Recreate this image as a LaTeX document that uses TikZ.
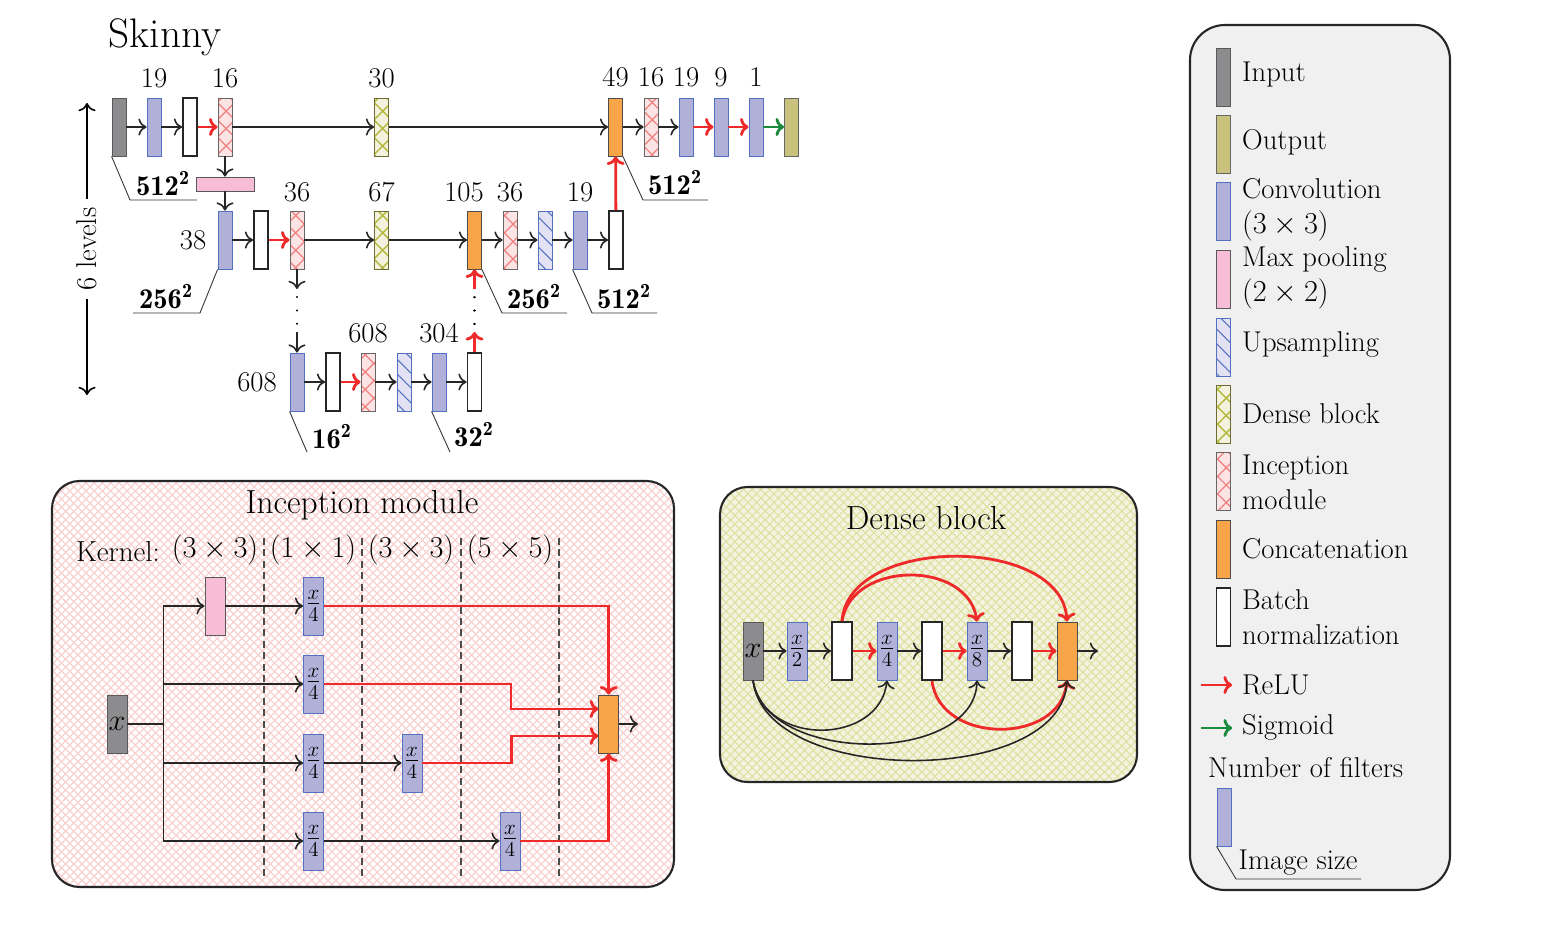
\documentclass[tikz,border=0pt]{standalone}
\usepackage{fontspec}
\usepackage{amsmath}
\usetikzlibrary{arrows.meta, calc, patterns.meta}
\definecolor{inputgray}{HTML}{8C8C8E}
\definecolor{outputolive}{HTML}{C8C27C}
\definecolor{convblue}{HTML}{B0B0D8}
\definecolor{convedge}{HTML}{5470C0}
\definecolor{poolpink}{HTML}{F7BCD6}
\definecolor{upfill}{HTML}{E2E2F4}
\definecolor{densefill}{HTML}{F4F2DE}
\definecolor{denseline}{HTML}{B4B83C}
\definecolor{denseedge}{HTML}{6E6E30}
\definecolor{incfill}{HTML}{FDE4E4}
\definecolor{incline}{HTML}{F08080}
\definecolor{concatorange}{HTML}{F8A54A}
\definecolor{relured}{HTML}{EE2A2A}
\definecolor{sigmoidgreen}{HTML}{1A8A3C}
\definecolor{legendgray}{HTML}{F0F0F0}
\definecolor{bgpinkline}{HTML}{FAD0D0}
\definecolor{bgdensefill}{HTML}{F4F3E2}
\definecolor{bgdenseline}{HTML}{DDE19C}

\begin{document}
\begin{tikzpicture}[x=0.02cm, y=-0.02cm, >={To[scale=1.3]}]
% Define styles
\tikzstyle{every node} = [font=\fontsize{16.3}{20}\selectfont]
\tikzstyle{layer} = [rectangle, minimum width=0.28cm, minimum height=1.16cm, inner sep=0pt, line width=0.5pt]
\tikzstyle{wide} = [minimum width=0.4cm]
\tikzstyle{inputbox} = [layer, fill=inputgray, draw=black!65]
\tikzstyle{outputbox} = [layer, fill=outputolive, draw=black!60]
\tikzstyle{conv} = [layer, fill=convblue, draw=convedge]
\tikzstyle{pool} = [layer, fill=poolpink, draw=black!65]
\tikzstyle{upsample} = [layer, draw=convedge, preaction={fill=upfill}, preaction={pattern={Lines[angle=-45, distance=6pt, line width=0.6pt]}, pattern color=convedge}]
\tikzstyle{dense} = [layer, draw=denseedge, preaction={fill=densefill}, preaction={pattern={Lines[angle=45, distance=7pt, line width=0.8pt]}, pattern color=denseline}, preaction={pattern={Lines[angle=-45, distance=7pt, line width=0.8pt]}, pattern color=denseline}]
\tikzstyle{incep} = [layer, draw=black!60, preaction={fill=incfill}, preaction={pattern={Lines[angle=45, distance=7pt, line width=0.7pt]}, pattern color=incline}, preaction={pattern={Lines[angle=-45, distance=7pt, line width=0.7pt]}, pattern color=incline}]
\tikzstyle{concat} = [layer, fill=concatorange, draw=black!70]
\tikzstyle{batchnorm} = [layer, fill=white, draw=black!85, line width=1.1pt]
\tikzstyle{arr} = [->, line width=0.9pt, draw=black!85]
\tikzstyle{relu} = [-{To[scale=0.95]}, line width=1.6pt, draw=relured]
\tikzstyle{sigm} = [-{To[scale=0.95]}, line width=1.6pt, draw=sigmoidgreen]
\tikzstyle{sizeline} = [line width=0.5pt, draw=black!80]
\tikzstyle{sizelabel} = [font=\fontsize{16.3}{20}\selectfont]
\tikzstyle{frac} = [font=\fontsize{17.5}{21}\selectfont]
\tikzstyle{kern} = [font=\fontsize{17}{20}\selectfont]
\tikzstyle{incbg} = [rounded corners=0.55cm, line width=1.2pt, draw=black!85, preaction={fill=white}, preaction={pattern={Lines[angle=45, distance=3.3pt, line width=0.7pt]}, pattern color=bgpinkline}, preaction={pattern={Lines[angle=-45, distance=3.3pt, line width=0.7pt]}, pattern color=bgpinkline}]
\tikzstyle{densebg} = [rounded corners=0.55cm, line width=1.2pt, draw=black!85, preaction={fill=bgdensefill}, preaction={pattern={Lines[angle=45, distance=3.5pt, line width=0.6pt]}, pattern color=bgdenseline}, preaction={pattern={Lines[angle=-45, distance=3.5pt, line width=0.6pt]}, pattern color=bgdenseline}]
\tikzstyle{legendbg} = [rounded corners=0.7cm, line width=1.2pt, draw=black!85, fill=legendgray]

\useasboundingbox (0,0) rectangle (1544,946);

% Skinny network
\node (title) at (165,37) [font=\fontsize{23.5}{27}\selectfont] {Skinny};

% Level 1
\node (in1) [inputbox] at (119,127) {};
\node (c1) [conv] at (154,127) {};
\node (bn1) [batchnorm] at (190,127) {};
\node (inc1) [incep] at (225,127) {};
\node (db1) [dense] at (381.5,127) {};
\node (cat1) [concat] at (615.5,127) {};
\node (inc2) [incep] at (651,127) {};
\node (c2) [conv] at (686,127) {};
\node (c3) [conv] at (721,127) {};
\node (c4) [conv] at (756,127) {};
\node (out1) [outputbox] at (791.5,127) {};
\node (pool1) [pool, minimum width=1.16cm, minimum height=0.28cm] at (225,184) {};

\node (t-c1) at (154,78) {19};
\node (t-inc1) at (225,78) {16};
\node (t-db1) at (381.5,78) {30};
\node (t-cat1) at (615.5,77) {49};
\node (t-inc2) at (651,77) {16};
\node (t-c2) at (686,77) {19};
\node (t-c3) at (721,77) {9};
\node (t-c4) at (756,77) {1};

% Level 2
\node (c5) [conv] at (225,240) {};
\node (bn2) [batchnorm] at (261,240) {};
\node (inc3) [incep] at (297,240) {};
\node (db2) [dense] at (381.5,240) {};
\node (cat2) [concat] at (474.5,240) {};
\node (inc4) [incep] at (510,240) {};
\node (up1) [upsample] at (545,240) {};
\node (c6) [conv] at (580,240) {};
\node (bn3) [batchnorm] at (616,240) {};

\node (t-c5) at (193,240) {38};
\node (t-inc3) at (297,192) {36};
\node (t-db2) at (381.5,192) {67};
\node (t-cat2) at (464,192) {105};
\node (t-inc4) at (510,192) {36};
\node (t-c6) at (580,192) {19};

% Level 3
\node (c7) [conv] at (297,382) {};
\node (bn4) [batchnorm] at (333,382) {};
\node (inc5) [incep] at (368,382) {};
\node (up2) [upsample] at (404,382) {};
\node (c8) [conv] at (439,382) {};
\node (bn5) [batchnorm] at (474.5,382) {};

\node (t-c7) at (257,382) {608};
\node (t-inc5) at (368,333) {608};
\node (t-c8) at (439,333) {304};

% Arrows
\draw[arr] (in1) -- (c1);
\draw[arr] (c1) -- (bn1);
\draw[relu] (bn1) -- (inc1);
\draw[arr] (inc1) -- (db1);
\draw[arr] (db1) -- (cat1);
\draw[arr] (cat1) -- (inc2);
\draw[arr] (inc2) -- (c2);
\draw[relu] (c2) -- (c3);
\draw[relu] (c3) -- (c4);
\draw[sigm] (c4) -- (out1);
\draw[arr] (inc1) -- (pool1);
\draw[arr] (pool1) -- (c5);

\draw[arr] (c5) -- (bn2);
\draw[relu] (bn2) -- (inc3);
\draw[arr] (inc3) -- (db2);
\draw[arr] (db2) -- (cat2);
\draw[arr] (cat2) -- (inc4);
\draw[arr] (inc4) -- (up1);
\draw[arr] (up1) -- (c6);
\draw[arr] (c6) -- (bn3);
\draw[relu] (bn3) -- (cat1);

\draw[arr] (c7) -- (bn4);
\draw[relu] (bn4) -- (inc5);
\draw[arr] (inc5) -- (up2);
\draw[arr] (up2) -- (c8);
\draw[arr] (c8) -- (bn5);

% Skipped levels
\coordinate (dn1) at (297,289);
\coordinate (dn2) at (297,332);
\coordinate (up-a) at (474.5,332);
\coordinate (up-b) at (474.5,289);
\draw[arr] (inc3) -- (dn1);
\draw[line width=1.2pt, dash pattern=on 0.1pt off 7.5pt, line cap=round] (dn1) ++(0,8) -- (dn2);
\draw[arr] (dn2) -- (c7);
\draw[relu] (bn5) -- (up-a);
\draw[line width=1.2pt, dash pattern=on 0.1pt off 7.5pt, line cap=round] (up-a) ++(0,-8) -- (up-b);
\draw[relu] (up-b) -- (cat2);

% Image sizes
\draw[sizeline] (in1.south west) -- (130,200) -- (197,200);
\node (s-in1) [sizelabel] at (163,184) {$\mathbf{512^2}$};
\draw[sizeline] (cat1.south east) -- (643,200) -- (708,200);
\node (s-cat1) [sizelabel] at (675,183) {$\mathbf{512^2}$};
\draw[sizeline] (c5.south west) -- (200,313) -- (133,313);
\node (s-c5) [sizelabel] at (166,297) {$\mathbf{256^2}$};
\draw[sizeline] (cat2.south east) -- (502,313) -- (567,313);
\node (s-cat2) [sizelabel] at (534,297) {$\mathbf{256^2}$};
\draw[sizeline] (c6.south west) -- (592,313) -- (657,313);
\node (s-c6) [sizelabel] at (624,297) {$\mathbf{512^2}$};
\draw[sizeline] (c7.south west) -- (307,452);
\node (s-c7) [sizelabel] at (332,437) {$\mathbf{16^2}$};
\draw[sizeline] (c8.south west) -- (450,452);
\node (s-c8) [sizelabel] at (474,435) {$\mathbf{32^2}$};

% Levels
\coordinate (lv-top) at (87,103);
\coordinate (lv-bot) at (87,395);
\draw[<->, line width=0.9pt] (lv-top) -- (lv-bot) node (levels) [midway, fill=white, rotate=90, inner sep=5pt] {6 levels};

% Inception module
\draw[incbg] (52,481) rectangle (674,887);
\node (inc-title) at (362,505) [font=\fontsize{19}{22}\selectfont] {Inception module};
\node (kernel) at (118,552) [font=\fontsize{16.5}{19}\selectfont] {Kernel:};
\node (k1) at (215,550) [kern] {$(3\times 3)$};
\node (k2) at (313,550) [kern] {$(1\times 1)$};
\node (k3) at (411,550) [kern] {$(3\times 3)$};
\node (k4) at (510,550) [kern] {$(5\times 5)$};
\foreach \xx in {264,362,461,559}
  \draw[black!70, line width=0.6pt, dash pattern=on 4pt off 2.5pt] (\xx,538) -- (\xx,876);

\node (ix) [inputbox, wide] at (117,724) {$x$};
\node (ip) [pool, wide] at (215,606) {};
\node (q1) [conv, wide, frac] at (313.5,606) {$\frac{x}{4}$};
\node (q2) [conv, wide, frac] at (313.5,684) {$\frac{x}{4}$};
\node (q3) [conv, wide, frac] at (313.5,763) {$\frac{x}{4}$};
\node (q4) [conv, wide, frac] at (313.5,841) {$\frac{x}{4}$};
\node (q5) [conv, wide, frac] at (412,763) {$\frac{x}{4}$};
\node (q6) [conv, wide, frac] at (510,841) {$\frac{x}{4}$};
\node (icat) [concat, wide] at (608.7,724) {};
\coordinate (iout) at (638,724);

\draw[arr] (ix.east) -- ++(36,0) |- (ip);
\draw[arr] (ix.east) -- ++(36,0) |- (q2);
\draw[arr] (ix.east) -- ++(36,0) |- (q3);
\draw[arr] (ix.east) -- ++(36,0) |- (q4);
\draw[arr] (ip) -- (q1);
\draw[arr] (q3) -- (q5);
\draw[arr] (q4) -- (q6);
\draw[relu] (q1) -| (icat);
\draw[relu] (q2.east) -- ++(187,0) |- ($(icat.west)+(0,-15)$);
\draw[relu] (q5.east) -- ++(89,0) |- ($(icat.west)+(0,12)$);
\draw[relu] (q6) -| (icat);
\draw[arr] (icat) -- (iout);

% Dense block
\draw[densebg] (720,487) rectangle (1137,782);
\node (dense-title) at (926,518) [font=\fontsize{19}{22}\selectfont] {Dense block};
\node (dx) [inputbox, wide] at (753,651) {$x$};
\node (d2) [conv, wide, frac] at (797,651) {$\frac{x}{2}$};
\node (dbn1) [batchnorm, wide] at (842,651) {};
\node (d4) [conv, wide, frac] at (887,651) {$\frac{x}{4}$};
\node (dbn2) [batchnorm, wide] at (932,651) {};
\node (d8) [conv, wide, frac] at (977,651) {$\frac{x}{8}$};
\node (dbn3) [batchnorm, wide] at (1022,651) {};
\node (dcat) [concat, wide] at (1067,651) {};
\coordinate (dout) at (1098,651);

\draw[arr] (dx) -- (d2);
\draw[arr] (d2) -- (dbn1);
\draw[relu] (dbn1) -- (d4);
\draw[arr] (d4) -- (dbn2);
\draw[relu] (dbn2) -- (d8);
\draw[arr] (d8) -- (dbn3);
\draw[relu] (dbn3) -- (dcat);
\draw[arr] (dcat) -- (dout);
\draw[relu] (dbn1.north) .. controls (852,560) and (968,560) .. (d8.north);
\draw[relu] (dbn1.north) .. controls (848,535) and (1062,535) .. (dcat.north);
\draw[relu] (dbn2.south) .. controls (940,745) and (1060,745) .. (dcat.south);
\draw[arr] (dx.south) .. controls (765,748) and (880,745) .. (d4.south);
\draw[arr] (dx.south) .. controls (765,765) and (975,765) .. (d8.south);
\draw[arr] (dx.south) .. controls (765,787) and (1062,787) .. (dcat.south);

% Legend
\draw[legendbg] (1190,25) rectangle (1450,890);
\node (l-in) [inputbox] at (1223.5,77) {};
\node (l-out) [outputbox] at (1223.5,144.5) {};
\node (l-conv) [conv] at (1223.5,211.7) {};
\node (l-pool) [pool] at (1223.5,279) {};
\node (l-up) [upsample] at (1223.5,347) {};
\node (l-dense) [dense] at (1223.5,414) {};
\node (l-inc) [incep] at (1223.5,481.7) {};
\node (l-cat) [concat] at (1223.5,549) {};
\node (l-bn) [batchnorm] at (1223.5,617) {};
\node (l-size) [conv] at (1224,817) {};

\node (lt-in) [anchor=west] at (1236,75) {Input};
\node (lt-out) [anchor=west] at (1236,142) {Output};
\node (lt-conv) [anchor=west, align=left] at (1236,210) {Convolution\\$(3\times 3)$};
\node (lt-pool) [anchor=west, align=left] at (1236,278) {Max pooling\\$(2\times 2)$};
\node (lt-up) [anchor=west] at (1236,344) {Upsampling};
\node (lt-dense) [anchor=west] at (1236,414) {Dense block};
\node (lt-inc) [anchor=west, align=left] at (1236,482) {Inception\\module};
\node (lt-cat) [anchor=west] at (1236,549) {Concatenation};
\node (lt-bn) [anchor=west, align=left] at (1236,617) {Batch\\normalization};

\coordinate (relu-a) at (1201,685);
\coordinate (relu-b) at (1232,685);
\coordinate (sigm-a) at (1201,728);
\coordinate (sigm-b) at (1232,728);
\draw[relu] (relu-a) -- (relu-b);
\draw[sigm] (sigm-a) -- (sigm-b);
\node (lt-relu) [anchor=west] at (1236,685) {ReLU};
\node (lt-sigm) [anchor=west] at (1236,727) {Sigmoid};
\node (lt-filters) [anchor=west] at (1202,768) {Number of filters};
\draw[sizeline] (l-size.south west) -- (1236,879) -- (1361,879);
\node (lt-size) at (1298,863) {Image size};
\end{tikzpicture}
\end{document}
